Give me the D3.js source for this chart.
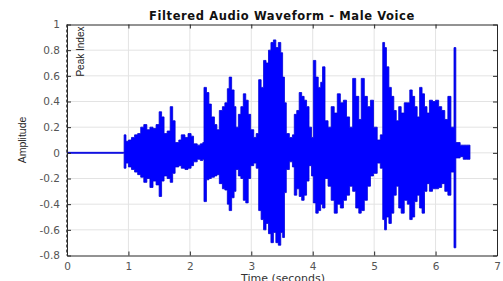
<!DOCTYPE html>
<html>
<head>
<meta charset="utf-8">
<script src="https://cdn.jsdelivr.net/npm/d3@7"></script>
<style>
  body { margin: 0; background: #fff; }
  svg { display: block; }
</style>
</head>
<body>
<script>
// envelope of the filtered waveform (seconds / amplitude)
var times = [0.00, 0.92, 0.93, 0.96, 1.00, 1.05, 1.10, 1.15, 1.20, 1.25, 1.30, 1.35, 1.40, 1.45, 1.50, 1.54,
  1.58, 1.63, 1.68, 1.72, 1.76, 1.82, 1.86, 1.92, 1.97, 2.02, 2.06, 2.12, 2.17, 2.21, 2.23, 2.27, 2.31,
  2.35, 2.40, 2.44, 2.48, 2.53, 2.57, 2.61, 2.64, 2.68, 2.72, 2.75, 2.79, 2.83, 2.87, 2.91, 2.95, 2.99,
  3.04, 3.08, 3.12, 3.16, 3.20, 3.24, 3.28, 3.32, 3.36, 3.40, 3.44, 3.48, 3.51, 3.54, 3.57, 3.62, 3.67,
  3.70, 3.74, 3.78, 3.82, 3.86, 3.90, 3.94, 3.98, 4.01, 4.05, 4.09, 4.13, 4.16, 4.20, 4.25, 4.30, 4.35,
  4.40, 4.45, 4.50, 4.55, 4.60, 4.65, 4.70, 4.75, 4.79, 4.84, 4.89, 4.94, 4.99, 5.05, 5.10, 5.14, 5.17,
  5.20, 5.24, 5.28, 5.32, 5.36, 5.40, 5.44, 5.49, 5.54, 5.58, 5.62, 5.66, 5.70, 5.74, 5.78, 5.82, 5.86,
  5.90, 5.95, 6.00, 6.05, 6.10, 6.15, 6.20, 6.25, 6.30, 6.33, 6.40, 6.45, 6.50, 6.56];

var upperEnv = [0.004, 0.004, 0.14, 0.09, 0.10, 0.12, 0.14, 0.15, 0.20, 0.22, 0.18, 0.20, 0.19, 0.22, 0.32, 0.28,
  0.15, 0.17, 0.36, 0.25, 0.08, 0.10, 0.14, 0.12, 0.15, 0.13, 0.07, 0.06, 0.07, 0.08, 0.51, 0.47, 0.38,
  0.28, 0.22, 0.18, 0.33, 0.36, 0.39, 0.50, 0.59, 0.49, 0.36, 0.20, 0.30, 0.36, 0.46, 0.41, 0.30, 0.18,
  0.12, 0.15, 0.57, 0.51, 0.72, 0.70, 0.80, 0.86, 0.88, 0.82, 0.86, 0.78, 0.59, 0.39, 0.15, 0.12, 0.14,
  0.30, 0.33, 0.47, 0.44, 0.41, 0.36, 0.20, 0.12, 0.72, 0.59, 0.51, 0.55, 0.67, 0.25, 0.20, 0.36, 0.31,
  0.46, 0.39, 0.41, 0.28, 0.20, 0.58, 0.44, 0.26, 0.58, 0.44, 0.36, 0.41, 0.20, 0.10, 0.14, 0.86, 0.82,
  0.67, 0.51, 0.44, 0.33, 0.25, 0.36, 0.31, 0.39, 0.39, 0.49, 0.44, 0.36, 0.28, 0.51, 0.46, 0.36, 0.31,
  0.41, 0.40, 0.41, 0.36, 0.33, 0.26, 0.44, 0.20, 0.82, 0.08, 0.06, 0.06, 0.06, 0.00];

var lowerEnv = [-0.004, -0.004, -0.12, -0.08, -0.11, -0.13, -0.15, -0.17, -0.19, -0.23, -0.20, -0.27, -0.22, -0.25, -0.34, -0.22,
  -0.18, -0.20, -0.23, -0.16, -0.11, -0.10, -0.12, -0.13, -0.12, -0.10, -0.07, -0.05, -0.06, -0.05, -0.38, -0.21, -0.20,
  -0.19, -0.18, -0.17, -0.24, -0.28, -0.29, -0.40, -0.45, -0.35, -0.30, -0.13, -0.18, -0.20, -0.37, -0.39, -0.20, -0.10,
  -0.08, -0.12, -0.45, -0.52, -0.60, -0.55, -0.63, -0.70, -0.62, -0.70, -0.72, -0.62, -0.66, -0.31, -0.13, -0.07, -0.11,
  -0.33, -0.28, -0.34, -0.37, -0.33, -0.22, -0.10, -0.18, -0.39, -0.47, -0.45, -0.40, -0.43, -0.20, -0.26, -0.37, -0.47,
  -0.40, -0.43, -0.37, -0.33, -0.26, -0.30, -0.43, -0.47, -0.45, -0.37, -0.26, -0.18, -0.16, -0.08, -0.12, -0.52, -0.60,
  -0.50, -0.55, -0.47, -0.33, -0.26, -0.43, -0.47, -0.37, -0.40, -0.52, -0.50, -0.38, -0.33, -0.43, -0.47, -0.30, -0.24,
  -0.30, -0.28, -0.28, -0.27, -0.24, -0.30, -0.33, -0.15, -0.74, -0.04, -0.03, -0.05, -0.05, 0.00];

var xTicks = [0, 1, 2, 3, 4, 5, 6, 7];
var yTicks = [-0.8, -0.6, -0.4, -0.2, 0, 0.2, 0.4, 0.6, 0.8, 1];

/**
 * Layout (note: "top" is reserved on window, so use plot* names)
 */
var W = 503;
var H = 281;
var plotLeft = 67, plotRight = 497, plotTop = 24.5, plotBottom = 255.5;
var waveColor = "#0000ff";
var axisColor = "#262626";
var tickTextColor = "#555";
var gridColor = "#e3e3e3";
var fontFamily = "'Liberation Sans', Arial, Helvetica, sans-serif";
var wideFont = "'DejaVu Sans', Verdana, sans-serif";

var x = d3.scaleLinear().domain([0, 7]).range([plotLeft, plotRight]);
var y = d3.scaleLinear().domain([-0.8, 1]).range([plotBottom, plotTop]);

var svg = d3.select("body").append("svg")
    .attr("width", W)
    .attr("height", H);

// grid
svg.append("g").selectAll("line")
    .data(xTicks.slice(1, -1))
    .enter().append("line")
    .attr("x1", function (d) { return x(d); })
    .attr("x2", function (d) { return x(d); })
    .attr("y1", plotTop)
    .attr("y2", plotBottom)
    .attr("stroke", gridColor)
    .attr("stroke-width", 1);

svg.append("g").selectAll("line")
    .data(yTicks.slice(1, -1))
    .enter().append("line")
    .attr("x1", plotLeft)
    .attr("x2", plotRight)
    .attr("y1", function (d) { return y(d); })
    .attr("y2", function (d) { return y(d); })
    .attr("stroke", gridColor)
    .attr("stroke-width", 1);

// waveform (envelope drawn as stepped area)
var pts = times.map(function (t, i) {
    return { t: t, hi: upperEnv[i], lo: lowerEnv[i] };
});

var area = d3.area()
    .curve(d3.curveStepAfter)
    .x(function (d) { return x(d.t); })
    .y0(function (d) { return y(d.lo); })
    .y1(function (d) { return y(d.hi); });

svg.append("path")
    .datum(pts)
    .attr("d", area)
    .attr("fill", waveColor)
    .attr("stroke", "#0000d8")
    .attr("stroke-width", 0.8);

// axes (box with inward ticks)
var axB = svg.append("g").attr("transform", "translate(0," + plotBottom + ")")
    .call(d3.axisBottom(x).tickValues(xTicks).tickSizeInner(-4).tickSizeOuter(0).tickPadding(7).tickFormat(d3.format("d")));
var axT = svg.append("g").attr("transform", "translate(0," + plotTop + ")")
    .call(d3.axisTop(x).tickValues(xTicks).tickSizeInner(-4).tickSizeOuter(0).tickFormat(""));
var axL = svg.append("g").attr("transform", "translate(" + plotLeft + ",0)")
    .call(d3.axisLeft(y).tickValues(yTicks).tickSizeInner(-4).tickSizeOuter(0).tickPadding(7)
        .tickFormat(function (d) { return d === 0 ? "0" : String(+d.toFixed(1)); }));
var axR = svg.append("g").attr("transform", "translate(" + plotRight + ",0)")
    .call(d3.axisRight(y).tickValues(yTicks).tickSizeInner(-4).tickSizeOuter(0).tickFormat(""));

[axB, axT, axL, axR].forEach(function (a) {
    a.select(".domain").attr("stroke", axisColor).attr("stroke-width", 1);
    a.selectAll(".tick line").attr("stroke", axisColor);
    a.selectAll(".tick text")
        .attr("fill", tickTextColor)
        .attr("font-family", wideFont)
        .attr("font-size", "10.5px");
});

// peak index marker (dashed xline at t = 0)
svg.append("line")
    .attr("x1", x(0))
    .attr("x2", x(0))
    .attr("y1", plotTop)
    .attr("y2", plotBottom)
    .attr("stroke", "#333")
    .attr("stroke-width", 1.6)
    .attr("stroke-dasharray", "3,2");

svg.append("text")
    .attr("transform", "translate(" + (x(0) + 17) + "," + (plotTop + 2) + ") rotate(-90)")
    .attr("text-anchor", "end")
    .attr("font-family", fontFamily)
    .attr("font-size", "10px")
    .attr("fill", "#222")
    .text("Peak Index");

// title and labels
svg.append("text")
    .attr("x", 282)
    .attr("y", 20)
    .attr("text-anchor", "middle")
    .attr("font-family", wideFont)
    .attr("font-weight", "bold")
    .attr("font-size", "11.5px")
    .attr("letter-spacing", "0.6px")
    .attr("fill", "#111")
    .text("Filtered Audio Waveform - Male Voice");

svg.append("text")
    .attr("x", 283)
    .attr("y", 282)
    .attr("text-anchor", "middle")
    .attr("font-family", wideFont)
    .attr("font-size", "11px")
    .attr("fill", "#333")
    .text("Time (seconds)");

svg.append("text")
    .attr("transform", "translate(26," + ((plotTop + plotBottom) / 2) + ") rotate(-90)")
    .attr("text-anchor", "middle")
    .attr("font-family", fontFamily)
    .attr("font-size", "10.5px")
    .attr("fill", "#262626")
    .text("Amplitude");
</script>
</body>
</html>
